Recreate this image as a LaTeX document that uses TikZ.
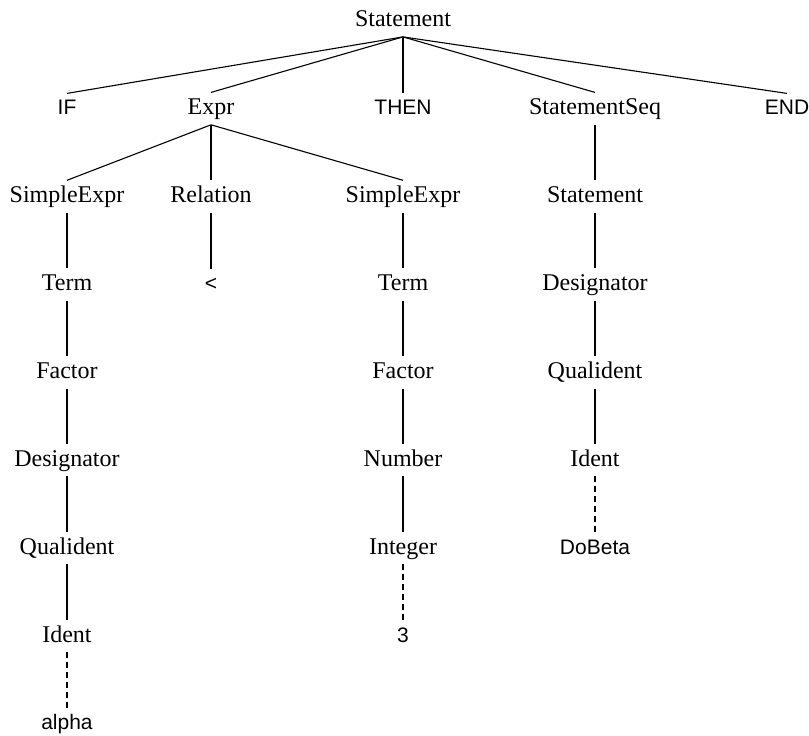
\documentclass[tikz,border=0pt]{standalone}
\usepackage{fontspec}
\setmainfont{Liberation Serif}
\newfontfamily\termfont{Liberation Sans}
\begin{document}
\begin{tikzpicture}[x=1pt,y=-1pt,
  nt/.style={anchor=base,font=\fontsize{24}{26}\selectfont,inner xsep=2pt,inner ysep=4pt,text height=18pt,text depth=6pt},
  tm/.style={anchor=base,font=\termfont\fontsize{21}{24}\selectfont,inner xsep=2pt,inner ysep=4pt,text height=17pt,text depth=6pt},
  edge/.style={line width=1.1pt},
  lex/.style={line width=1.1pt,dash pattern=on 6pt off 4pt}]
\useasboundingbox (0,0) rectangle (809,736);
\def\ca{67}\def\cb{211}\def\cc{403}\def\cd{595}\def\ce{787}
\node[nt] (s) at (\cc,26.7) {Statement};
\node[tm] (if) at (\ca,114.6) {IF};
\node[nt] (expr) at (\cb,114.6) {Expr};
\node[tm] (then) at (\cc,114.6) {THEN};
\node[nt] (seq) at (\cd,114.6) {StatementSeq};
\node[tm] (end) at (\ce,114.6) {END};
\node[nt] (se1) at (\ca,202.5) {SimpleExpr};
\node[nt] (rel) at (\cb,202.5) {Relation};
\node[nt] (se2) at (\cc,202.5) {SimpleExpr};
\node[nt] (st2) at (\cd,202.5) {Statement};
\node[nt] (term1) at (\ca,290.4) {Term};
\node[tm] (lt) at (\cb,290.4) {<};
\node[nt] (term2) at (\cc,290.4) {Term};
\node[nt] (des2) at (\cd,290.4) {Designator};
\node[nt] (fac1) at (\ca,378.3) {Factor};
\node[nt] (fac2) at (\cc,378.3) {Factor};
\node[nt] (qual2) at (\cd,378.3) {Qualident};
\node[nt] (des1) at (\ca,466.2) {Designator};
\node[nt] (num) at (\cc,466.2) {Number};
\node[nt] (id2) at (\cd,466.2) {Ident};
\node[nt] (qual1) at (\ca,554.1) {Qualident};
\node[nt] (int) at (\cc,554.1) {Integer};
\node[tm] (dobeta) at (\cd,554.1) {DoBeta};
\node[nt] (id1) at (\ca,642) {Ident};
\node[tm] (three) at (\cc,642) {3};
\node[tm] (alpha) at (\ca,729.9) {alpha};
\foreach \p/\c in {s/if,s/expr,s/then,s/seq,s/end,expr/se1,expr/rel,expr/se2,seq/st2,
  se1/term1,rel/lt,se2/term2,st2/des2,term1/fac1,term2/fac2,des2/qual2,
  fac1/des1,fac2/num,qual2/id2,des1/qual1,num/int,qual1/id1}
  \draw[edge] (\p.south) -- (\c.north);
\foreach \p/\c in {id2/dobeta,int/three,id1/alpha}
  \draw[lex] (\p.south) -- (\c.north);
\end{tikzpicture}
\end{document}
